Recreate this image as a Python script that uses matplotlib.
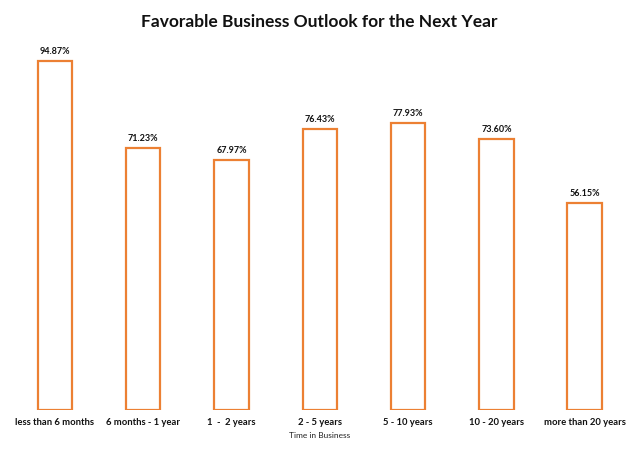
import matplotlib.pyplot as plt

categories = ["less than 6 months", "6 months - 1 year", "1  -  2 years", "2 - 5 years",
              "5 - 10 years", "10 - 20 years", "more than 20 years"]
values = [94.87, 71.23, 67.97, 76.43, 77.93, 73.60, 56.15]
labels = ["94.87%", "71.23%", "67.97%", "76.43%", "77.93%", "73.60%", "56.15%"]

plt.rcParams["font.family"] = ["Lato", "DejaVu Sans"]

fig = plt.figure(figsize=(6.39, 4.56), dpi=100)
ax = fig.add_axes([0.017, 0.099, 0.967, 0.807])

x = range(len(categories))
ax.bar(x, values, width=0.39, facecolor="white", edgecolor="#EC8033", linewidth=1.6)

for i, (v, lab) in enumerate(zip(values, labels)):
    ax.text(i, v + 1.6, lab, ha="center", va="bottom", fontsize=6.5, fontweight="bold", color="#111111")

ax.set_xlim(-0.5, len(categories) - 0.5)
ax.set_ylim(0, 100)
ax.set_xticks(list(x))
ax.set_xticklabels(categories, fontsize=6.8, fontweight="bold", color="#111111")
ax.tick_params(axis="x", length=0, pad=5)
ax.set_yticks([])
for s in ax.spines.values():
    s.set_visible(False)

ax.set_xlabel("Time in Business", fontsize=6, color="#222222", labelpad=4)
fig.suptitle("Favorable Business Outlook for the Next Year", fontsize=12.5, fontweight="bold",
             y=0.97, color="#111111")

plt.savefig("out.png", dpi=100)
